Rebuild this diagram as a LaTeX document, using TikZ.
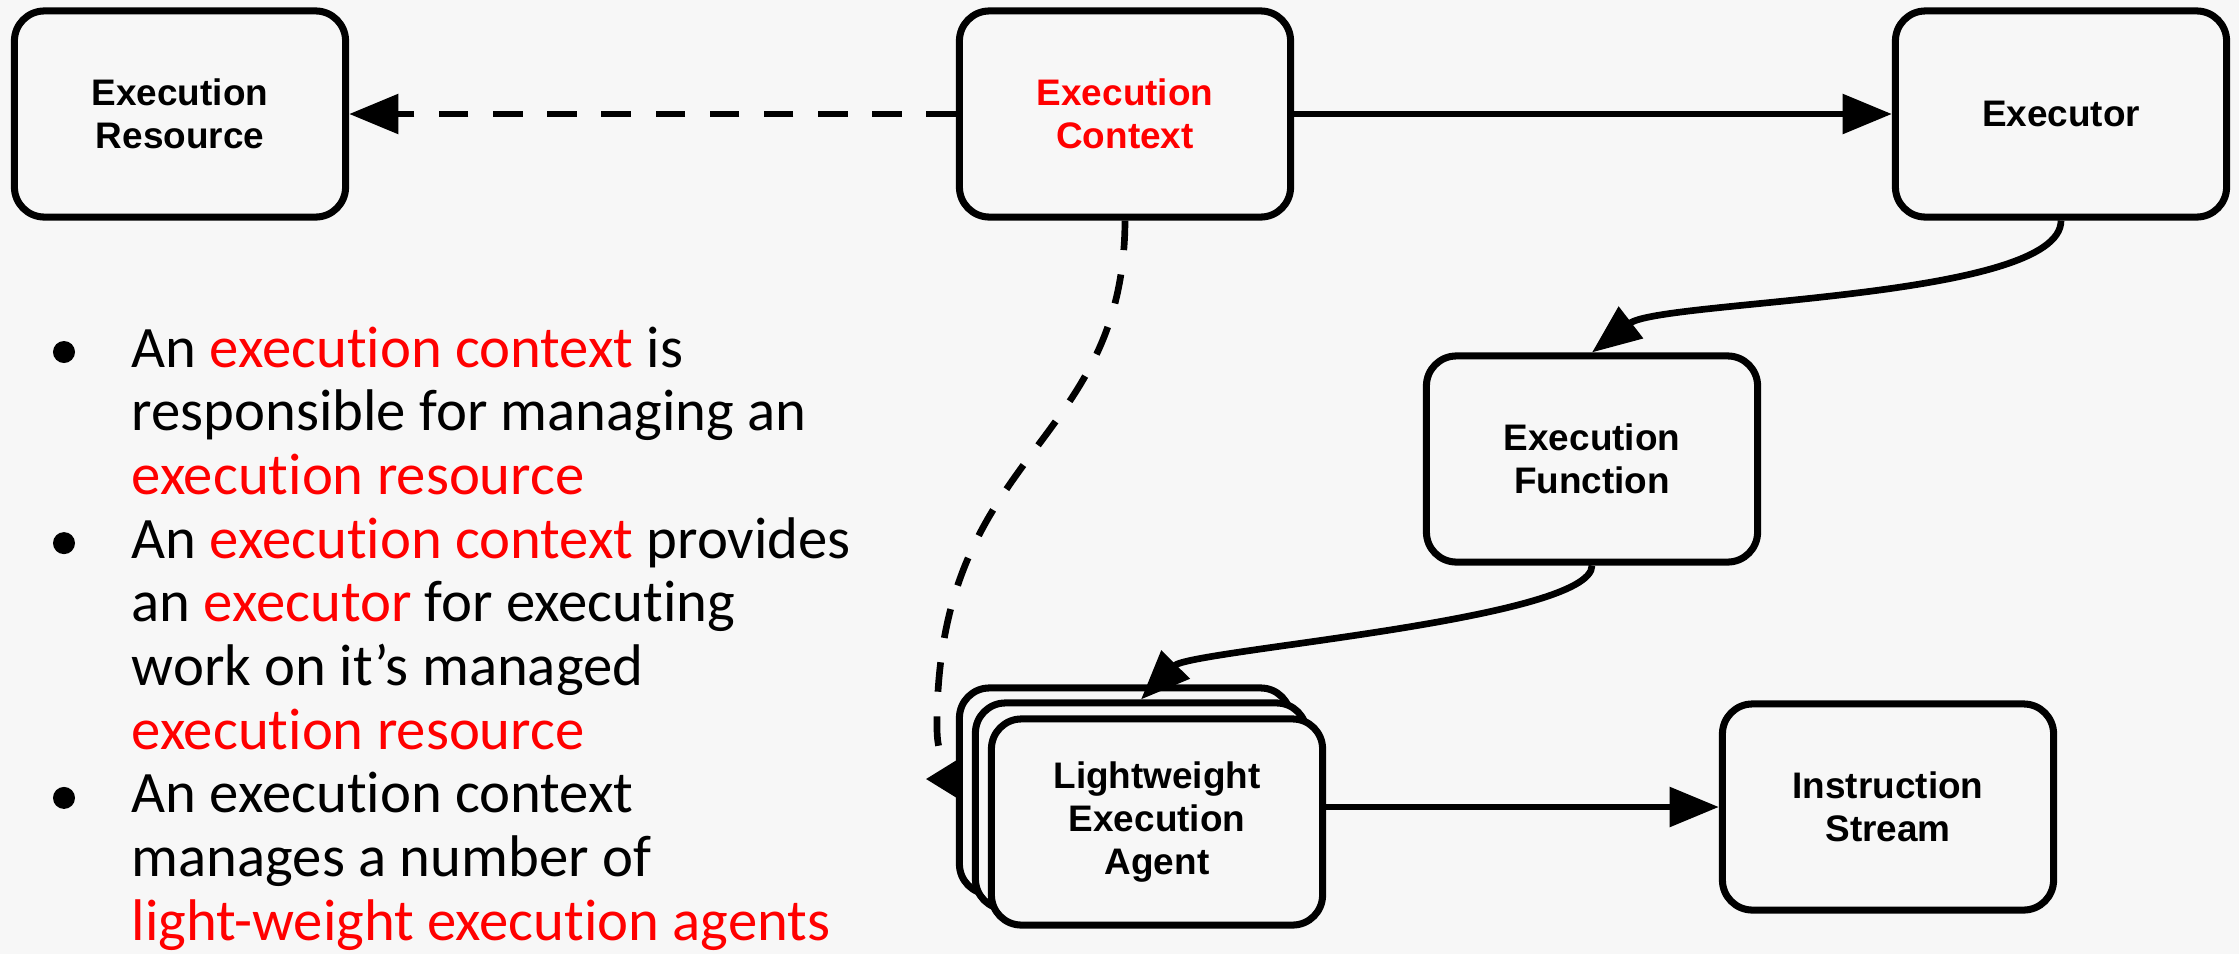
\documentclass[tikz,border=0pt]{standalone}
\usepackage{fontspec}
\newfontfamily\boxfont{Liberation Sans}
\newfontfamily\notefont{Carlito}[Ligatures={NoCommon}]
\usetikzlibrary{arrows.meta,backgrounds,calc}
\definecolor{paper}{RGB}{247,247,247}
\definecolor{hot}{RGB}{255,0,0}

\begin{document}
\begin{tikzpicture}[x=0.01cm,y=-0.01cm,
  card/.style={draw,line width=2pt,rounded corners=0.3cm,fill=paper,
    minimum width=3.31cm,minimum height=2.06cm,align=center,inner sep=2pt,
    font=\boxfont\bfseries\fontsize{10.5}{12.2}\selectfont},
  link/.style={line width=1.9pt,-{Triangle[length=14pt,width=11pt]}},
  dashlink/.style={link,dash pattern=on 8.4pt off 7pt},
  noteline/.style={anchor=base west,inner sep=0pt,
    font=\notefont\fontsize{16.7}{18.1}\selectfont},
  bulletdot/.style={circle,fill,inner sep=0pt,minimum size=0.22cm}]
\useasboundingbox (0,0) rectangle (2239,954);
% boxes
\node[card] (res) at (180,114) {Execution\\Resource};
\node[card,text=hot] (ctx) at (1125,114) {Execution\\Context};
\node[card] (exe) at (2061,114) {Executor};
\node[card] (fun) at (1592,459) {Execution\\Function};
\node[card] (lea3) at (1125,791) {};
\node[card] (lea2) at (1141,806) {};
\node[card] (lea1) at (1157,822) {Lightweight\\Execution\\Agent};
\node[card] (ins) at (1888,807) {Instruction\\Stream};
% edges
\draw[dashlink] (ctx.west) -- (res.east);
\draw[link] (ctx.east) -- (exe.west);
\draw[link] (exe.south) .. controls (2061,300) and (1660,300) .. (fun.north);
\draw[link] (fun.south) .. controls (1592,620) and (1190,650) .. (lea2.north);
\draw[link] (lea1.east |- ins.west) -- (ins.west);
% notes on the left
\foreach \ln [count=\k from 0] in {
  {An \textcolor{hot}{execution context} is},
  {responsible for managing an},
  {\textcolor{hot}{execution resource}},
  {An \textcolor{hot}{execution context} provides},
  {an \textcolor{hot}{executor} for executing},
  {work on it’s managed},
  {\textcolor{hot}{execution resource}},
  {An execution context},
  {manages a number of},
  {\textcolor{hot}{light-weight execution agents}}}
  \node[noteline] (line\k) at (131,{367+63.7*\k}) {\ln};
\foreach \k in {0,3,7}
  \node[bulletdot] (dot\k) at (64,{352+63.7*\k}) {};
% paper and the dashed edge go under the boxes
\begin{pgfonlayer}{background}
\fill[paper] (0,0) rectangle (2239,954);
\draw[dashlink,-{Triangle[length=11pt,width=13pt]}] (ctx.south)
  .. controls (1124,450) and (935,450) .. (937,730)
  .. controls (938,765) and (950,779) .. (1000,779)
  -- ($(lea3.west)+(-30,-12)$);
\end{pgfonlayer}
\end{tikzpicture}
\end{document}
